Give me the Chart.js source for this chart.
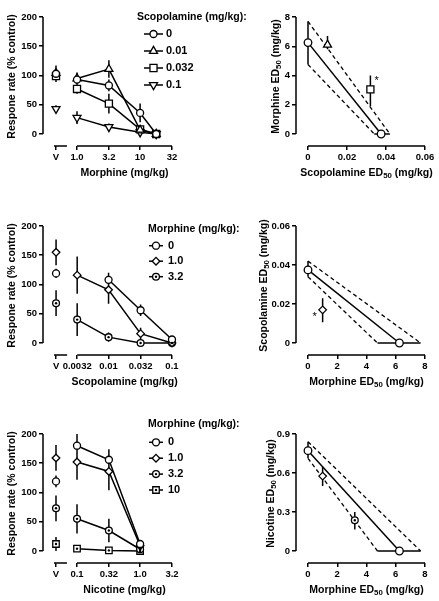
<!DOCTYPE html>
<html lang="en">
<head>
<meta charset="UTF-8">
<title>Drug combinations - response rate and ED50</title>
<script src="https://cdn.jsdelivr.net/npm/chart.js@4.4.0/dist/chart.umd.min.js"></script>
<style>
  html, body { margin: 0; padding: 0; background: #fff; overflow: hidden; }
  #fig { position: relative; width: 439px; height: 601px; }
  #fig canvas { position: absolute; }
</style>
</head>
<body>
<div id="fig">
  <canvas id="p1"></canvas>
  <canvas id="p2"></canvas>
  <canvas id="p3"></canvas>
  <canvas id="p4"></canvas>
  <canvas id="p5"></canvas>
  <canvas id="p6"></canvas>
</div>
<script>
var FONT = '"Liberation Sans", Arial, sans-serif';

// top left: morphine dose-effect after scopolamine
var morphDoses = [1.0, 3.2, 10, 18];
var morphTickDoses = [1.0, 3.2, 10, 32];
var morphTickLabels = ['V', '1.0', '3.2', '10', '32'];
var scopLevels = ['0', '0.01', '0.032', '0.1'];
var scopMarkers = ['circle', 'tri', 'square', 'invtri'];
var morphVeh = [103, 104, 99, 43];
var morphVehErr = [14, 12, 8, 6];
var morphRate = [[93, 83, 36, 0], [95, 111, 7, 0], [77, 52, 8, 0], [28, 12, 3, 0]];
var morphRateErr = [[12, 10, 16, 3], [8, 15, 4, 2], [8, 17, 5, 2], [11, 6, 3, 2]];

// middle left: scopolamine dose-effect after morphine
var scopDoses = [[0.01, 0.032, 0.1], [0.0032, 0.01, 0.032, 0.1], [0.0032, 0.01, 0.032, 0.1]];
var scopTickDoses = [0.0032, 0.01, 0.032, 0.1];
var scopTickLabels = ['V', '0.0032', '0.01', '0.032', '0.1'];
var morphLevelsA = ['0', '1.0', '3.2'];
var morphMarkersA = ['circle', 'diamond', 'dotcircle'];
var scopVeh = [119, 155, 68];
var scopVehErr = [8, 22, 22];
var scopRate = [[108, 56, 6], [116, 91, 16, 0], [40, 10, 0, 0]];
var scopRateErr = [[12, 10, 4], [32, 24, 10, 2], [28, 8, 2, 2]];

// bottom left: nicotine dose-effect after morphine
var nicDoses = [[0.1, 0.32, 1.0], [0.1, 0.32, 1.0], [0.1, 0.32, 1.0], [0.1, 0.32, 1.0]];
var nicTickDoses = [0.1, 0.32, 1.0, 3.2];
var nicTickLabels = ['V', '0.1', '0.32', '1.0', '3.2'];
var morphLevelsB = ['0', '1.0', '3.2', '10'];
var morphMarkersB = ['circle', 'diamond', 'dotcircle', 'dotsquare'];
var nicVeh = [119, 159, 73, 12];
var nicVehErr = [10, 22, 22, 12];
var nicRate = [[180, 156, 12], [152, 136, 9], [55, 35, 3], [4, 1, 0]];
var nicRateErr = [[20, 18, 5], [30, 32, 4], [25, 20, 3], [3, 2, 2]];

var rateTicks = [0, 50, 100, 150, 200];
var rateTickLabels = ['0', '50', '100', '150', '200'];

// isobolograms: [ED50, lower limit, upper limit]
var morphineED50 = [6.25, 4.75, 7.7];
var scopolamineED50 = [0.0375, 0.034, 0.042];
var nicotineED50 = [0.772, 0.713, 0.841];

// top right: morphine ED50 in presence of scopolamine
var isoScopDose = [0.01, 0.032];
var isoMorphED50 = [6.1, 3.05];
var isoMorphLo = [5.8, 1.9];
var isoMorphHi = [6.7, 4.0];
var isoMorphMarkers = ['tri', 'square'];
var isoStarA = [0.0352, 3.6];

// middle right: scopolamine ED50 in presence of morphine
var isoMorphDoseA = [1.0];
var isoScopED50 = [0.017];
var isoScopLo = [0.0106];
var isoScopHi = [0.023];
var isoScopMarkers = ['diamond'];
var isoStarB = [0.46, 0.0135];

// bottom right: nicotine ED50 in presence of morphine
var isoMorphDoseB = [1.0, 3.2];
var isoNicED50 = [0.576, 0.237];
var isoNicLo = [0.50, 0.165];
var isoNicHi = [0.648, 0.30];
var isoNicMarkers = ['diamond', 'dotcircle'];

var STY = {
  circle: { pointStyle: 'circle', pointRadius: 3.5, pointRotation: 0, dot: false },
  tri: { pointStyle: 'triangle', pointRadius: 4.6, pointRotation: 0, dot: false },
  square: { pointStyle: 'rect', pointRadius: 5, pointRotation: 0, dot: false },
  invtri: { pointStyle: 'triangle', pointRadius: 4.6, pointRotation: 180, dot: false },
  diamond: { pointStyle: 'rectRot', pointRadius: 3.8, pointRotation: 0, dot: false },
  dotcircle: { pointStyle: 'circle', pointRadius: 3.4, pointRotation: 0, dot: true },
  dotsquare: { pointStyle: 'rect', pointRadius: 4.6, pointRotation: 0, dot: true }
};

function drawText(ctx, str, cx, cy, size, rotate) {
  // "_50" marks a subscript
  var parts = str.split(/_(\d+)/);
  var big = 'bold ' + size + 'px ' + FONT;
  var small = 'bold ' + (size * 0.75) + 'px ' + FONT;
  var w = 0;
  parts.forEach(function (t, i) { ctx.font = i % 2 ? small : big; w += ctx.measureText(t).width; });
  ctx.save();
  ctx.translate(cx, cy);
  if (rotate) ctx.rotate(-Math.PI / 2);
  ctx.textAlign = 'left'; ctx.textBaseline = 'middle'; ctx.fillStyle = '#000';
  var x = -w / 2;
  parts.forEach(function (t, i) {
    ctx.font = i % 2 ? small : big;
    ctx.fillText(t, x, i % 2 ? 3 : 0);
    x += ctx.measureText(t).width;
  });
  ctx.restore();
}

function centerDot(ctx, x, y) {
  ctx.beginPath();
  ctx.arc(x, y, 1.2, 0, Math.PI * 2);
  ctx.fill();
}

var decor = {
  id: 'decor',
  beforeDatasetsDraw: function (chart, args, o) {
    var ctx = chart.ctx, xs = chart.scales.x, ys = chart.scales.y, a = chart.chartArea;
    ctx.save();
    ctx.strokeStyle = '#000'; ctx.lineWidth = 1.5;
    ctx.beginPath();
    ctx.moveTo(a.left, ys.getPixelForValue(o.yLine[0]));
    ctx.lineTo(a.left, ys.getPixelForValue(o.yLine[1]));
    o.xLines.forEach(function (seg) {
      ctx.moveTo(xs.getPixelForValue(seg[0]), a.bottom);
      ctx.lineTo(xs.getPixelForValue(seg[1]), a.bottom);
    });
    ctx.stroke();
    ctx.beginPath();
    chart.data.datasets.forEach(function (ds) {
      ds.data.forEach(function (p, i) {
        var lo = null, hi = null;
        if (ds.yErr && ds.yErr[i] != null) { lo = p.y - ds.yErr[i]; hi = p.y + ds.yErr[i]; }
        if (ds.yLo && ds.yLo[i] != null) { lo = ds.yLo[i]; hi = ds.yHi[i]; }
        if (lo != null) {
          var px = xs.getPixelForValue(p.x);
          ctx.moveTo(px, ys.getPixelForValue(lo));
          ctx.lineTo(px, ys.getPixelForValue(hi));
        }
        if (ds.xLo && ds.xLo[i] != null) {
          var py = ys.getPixelForValue(p.y);
          ctx.moveTo(xs.getPixelForValue(ds.xLo[i]), py);
          ctx.lineTo(xs.getPixelForValue(ds.xHi[i]), py);
        }
      });
    });
    ctx.stroke();
    ctx.restore();
  },
  afterDatasetsDraw: function (chart) {
    var ctx = chart.ctx;
    ctx.save();
    ctx.fillStyle = '#000';
    chart.data.datasets.forEach(function (ds, di) {
      if (!ds.dot) return;
      chart.getDatasetMeta(di).data.forEach(function (el, i) {
        var on = Array.isArray(ds.dot) ? ds.dot[i] : ds.dot;
        if (on) centerDot(ctx, el.x, el.y);
      });
    });
    ctx.restore();
  },
  afterDraw: function (chart, args, o) {
    var ctx = chart.ctx, xs = chart.scales.x, ys = chart.scales.y, a = chart.chartArea;
    var seg = o.xLines[o.xLines.length - 1];
    drawText(ctx, o.xTitle, (xs.getPixelForValue(seg[0]) + xs.getPixelForValue(seg[1])) / 2, a.bottom + 27, 10.5, false);
    drawText(ctx, o.yTitle, o.yTitleX, (ys.getPixelForValue(o.yLine[0]) + ys.getPixelForValue(o.yLine[1])) / 2 + 1, 10.5, true);
    if (o.star) {
      ctx.save();
      ctx.font = '11px ' + FONT; ctx.fillStyle = '#000';
      ctx.textAlign = 'center'; ctx.textBaseline = 'middle';
      ctx.fillText('*', xs.getPixelForValue(o.star[0]), ys.getPixelForValue(o.star[1]));
      ctx.restore();
    }
    if (o.legend) {
      var L = o.legend, k = 0;
      ctx.save();
      ctx.fillStyle = '#000';
      ctx.font = 'bold 10.5px ' + FONT; ctx.textAlign = 'left'; ctx.textBaseline = 'middle';
      ctx.fillText(L.title, L.x, L.y);
      chart.data.datasets.forEach(function (ds) {
        if (!ds.legend) return;
        var y = L.y0 + k * L.dy, xm = (L.x0 + L.x1) / 2; k++;
        ctx.strokeStyle = '#000'; ctx.lineWidth = 1.5;
        ctx.beginPath(); ctx.moveTo(L.x0, y); ctx.lineTo(L.x1, y); ctx.stroke();
        ctx.fillStyle = '#fff'; ctx.lineWidth = 1.3;
        Chart.helpers.drawPoint(ctx, { pointStyle: ds.pointStyle, radius: ds.pointRadius, rotation: ds.pointRotation || 0, borderWidth: 1.3 }, xm, y);
        ctx.fillStyle = '#000';
        if (ds.dot) centerDot(ctx, xm, y);
        ctx.font = 'bold 11px ' + FONT;
        ctx.fillText(ds.label, L.tx, y);
      });
      ctx.restore();
    }
  }
};

function tickScale(min, max, vals, labels, extra) {
  var s = {
    type: 'linear', min: min, max: max, bounds: 'data',
    grid: { display: true, drawOnChartArea: false, drawTicks: true, tickLength: 4, color: '#000', lineWidth: 1.5 },
    border: { display: false },
    afterBuildTicks: function (sc) { sc.ticks = vals.map(function (v) { return { value: v }; }); },
    ticks: {
      autoSkip: false, maxRotation: 0, minRotation: 0, color: '#000', padding: 2,
      font: { family: FONT, size: 9.5, weight: 'bold' },
      callback: function (v, i) { return labels[i]; }
    }
  };
  for (var k in extra) s[k] = extra[k];
  return s;
}

function pointDs(label, pts, style, extra) {
  var d = {
    label: label, data: pts, showLine: true, clip: false,
    borderColor: '#000', borderWidth: 1.5,
    pointBackgroundColor: '#fff', pointBorderColor: '#000', pointBorderWidth: 1.3,
    pointStyle: style.pointStyle, pointRadius: style.pointRadius, pointRotation: style.pointRotation,
    dot: style.dot
  };
  for (var k in extra) d[k] = extra[k];
  return d;
}

function place(id, left, top, w, h) {
  var c = document.getElementById(id);
  c.width = w; c.height = h;
  c.style.left = left + 'px'; c.style.top = top + 'px';
  return c;
}

var L10 = Math.log10;

function dosePanel(id, top, doses, tickDoses, tickLabels, levels, markers, veh, vehErr, rate, rateErr, xTitle, legend) {
  var t0 = L10(tickDoses[0]), t1 = L10(tickDoses[tickDoses.length - 1]);
  var vPos = t0 - 0.333;
  var sets = [];
  levels.forEach(function (lv, i) {
    var pts = doses[i].map(function (d, j) { return { x: L10(d), y: rate[i][j] }; });
    sets.push(pointDs(lv, pts, STY[markers[i]], { legend: true, yErr: rateErr[i] }));
  });
  levels.forEach(function (lv, i) {
    sets.push(pointDs(lv + ' vehicle', [{ x: vPos, y: veh[i] }], STY[markers[i]], { showLine: false, yErr: [vehErr[i]] }));
  });
  var xVals = [vPos].concat(tickDoses.map(L10));
  new Chart(place(id, 0, top, 255, 184), {
    type: 'scatter',
    data: { datasets: sets },
    options: {
      responsive: false, animation: false, events: [],
      layout: { padding: { top: 17, right: 81.5, left: 0, bottom: 0 } },
      scales: {
        x: tickScale(t0 - 0.539, t1 + 0.024, xVals, tickLabels, { afterFit: function (s) { s.height = 38; } }),
        y: tickScale(-200 * 12 / 117, 200, rateTicks, rateTickLabels, { afterFit: function (s) { s.width = 43; } })
      },
      plugins: {
        legend: { display: false }, tooltip: { enabled: false },
        decor: {
          yLine: [0, 200], xLines: [[vPos - 0.032, vPos + 0.174], [t0, t1]],
          xTitle: xTitle, yTitle: 'Respone rate (% control)', yTitleX: 12, legend: legend
        }
      }
    },
    plugins: [decor]
  });
}

function isoPanel(id, top, xMax, yMax, xTicks, xLabels, yTicks, yLabels, xAlone, yAlone, cx, cy, cLo, cHi, cMarkers, star, xTitle, yTitle, yTitleX) {
  var combo = pointDs('combination', cx.map(function (v, i) { return { x: v, y: cy[i] }; }), STY.circle, {
    showLine: false, yLo: cLo, yHi: cHi,
    pointStyle: cMarkers.map(function (m) { return STY[m].pointStyle; }),
    pointRadius: cMarkers.map(function (m) { return STY[m].pointRadius; }),
    pointRotation: cMarkers.map(function (m) { return STY[m].pointRotation; }),
    dot: cMarkers.map(function (m) { return STY[m].dot; })
  });
  var additive = pointDs('additive', [{ x: 0, y: yAlone[0] }, { x: xAlone[0], y: 0 }], { pointStyle: 'circle', pointRadius: 3.8, pointRotation: 0 }, {
    yLo: [yAlone[1], null], yHi: [yAlone[2], null], xLo: [null, xAlone[1]], xHi: [null, xAlone[2]]
  });
  var upper = { label: 'upper', data: [{ x: 0, y: yAlone[2] }, { x: xAlone[2], y: 0 }], showLine: true, clip: false, borderColor: '#000', borderWidth: 1.3, borderDash: [4, 3], pointRadius: 0 };
  var lower = { label: 'lower', data: [{ x: 0, y: yAlone[1] }, { x: xAlone[1], y: 0 }], showLine: true, clip: false, borderColor: '#000', borderWidth: 1.3, borderDash: [4, 3], pointRadius: 0 };
  new Chart(place(id, 250, top, 189, 184), {
    type: 'scatter',
    data: { datasets: [combo, additive, upper, lower] },
    options: {
      responsive: false, animation: false, events: [],
      layout: { padding: { top: 17, right: 13, left: 0, bottom: 0 } },
      scales: {
        x: tickScale(-xMax * 12 / 117, xMax * 118 / 117, xTicks, xLabels, { afterFit: function (s) { s.height = 38; } }),
        y: tickScale(-yMax * 12 / 117, yMax, yTicks, yLabels, { afterFit: function (s) { s.width = 46; } })
      },
      plugins: {
        legend: { display: false }, tooltip: { enabled: false },
        decor: { yLine: [0, yMax], xLines: [[0, xMax]], xTitle: xTitle, yTitle: yTitle, yTitleX: yTitleX, star: star }
      }
    },
    plugins: [decor]
  });
}

dosePanel('p1', 0, [morphDoses, morphDoses, morphDoses, morphDoses], morphTickDoses, morphTickLabels,
  scopLevels, scopMarkers, morphVeh, morphVehErr, morphRate, morphRateErr, 'Morphine (mg/kg)',
  { title: 'Scopolamine (mg/kg):', x: 137, y: 17, y0: 34, dy: 17, x0: 144, x1: 163, tx: 166 });

dosePanel('p3', 209, scopDoses, scopTickDoses, scopTickLabels,
  morphLevelsA, morphMarkersA, scopVeh, scopVehErr, scopRate, scopRateErr, 'Scopolamine (mg/kg)',
  { title: 'Morphine (mg/kg):', x: 148, y: 20, y0: 36.7, dy: 15.5, x0: 149, x1: 163, tx: 168 });

dosePanel('p5', 417, nicDoses, nicTickDoses, nicTickLabels,
  morphLevelsB, morphMarkersB, nicVeh, nicVehErr, nicRate, nicRateErr, 'Nicotine (mg/kg)',
  { title: 'Morphine (mg/kg):', x: 148, y: 7, y0: 25.3, dy: 15.9, x0: 149, x1: 163, tx: 168 });

isoPanel('p2', 0, 0.06, 8, [0, 0.02, 0.04, 0.06], ['0', '0.02', '0.04', '0.06'], [0, 2, 4, 6, 8], ['0', '2', '4', '6', '8'],
  scopolamineED50, morphineED50, isoScopDose, isoMorphED50, isoMorphLo, isoMorphHi, isoMorphMarkers, isoStarA,
  'Scopolamine ED_50 (mg/kg)', 'Morphine ED_50 (mg/kg)', 26);

isoPanel('p4', 209, 8, 0.06, [0, 2, 4, 6, 8], ['0', '2', '4', '6', '8'], [0, 0.02, 0.04, 0.06], ['0', '0.02', '0.04', '0.06'],
  morphineED50, scopolamineED50, isoMorphDoseA, isoScopED50, isoScopLo, isoScopHi, isoScopMarkers, isoStarB,
  'Morphine ED_50 (mg/kg)', 'Scopolamine ED_50 (mg/kg)', 14);

isoPanel('p6', 417, 8, 0.9, [0, 2, 4, 6, 8], ['0', '2', '4', '6', '8'], [0, 0.3, 0.6, 0.9], ['0', '0.3', '0.6', '0.9'],
  morphineED50, nicotineED50, isoMorphDoseB, isoNicED50, isoNicLo, isoNicHi, isoNicMarkers, null,
  'Morphine ED_50 (mg/kg)', 'Nicotine ED_50 (mg/kg)', 21);
</script>
</body>
</html>
